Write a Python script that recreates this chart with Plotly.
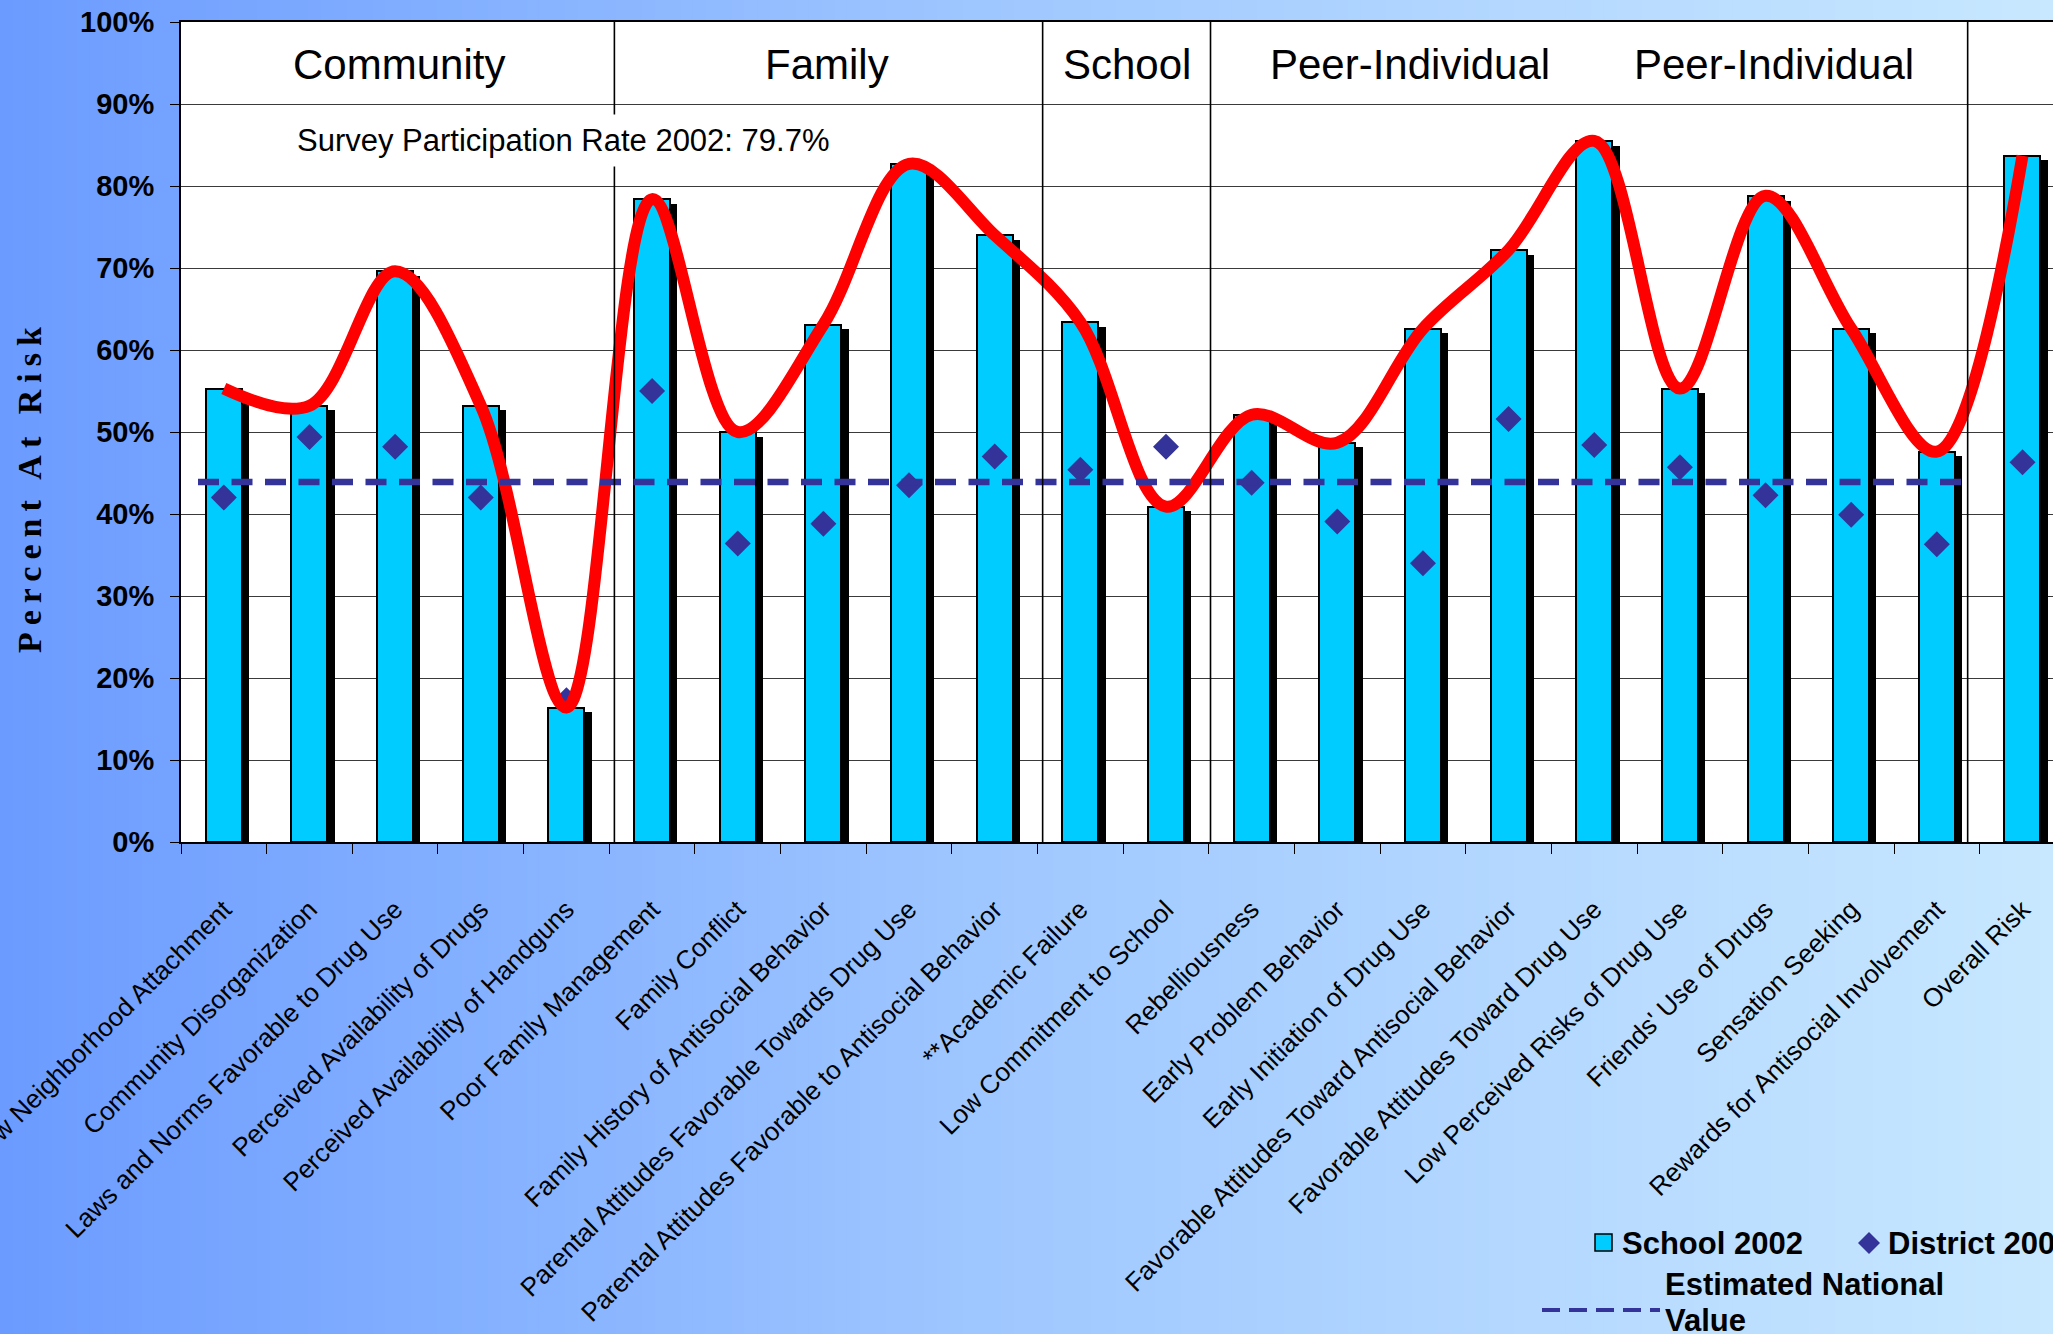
import plotly.graph_objects as go

# ---- data -------------------------------------------------------------
categories = [
    "Low Neighborhood Attachment",
    "Community Disorganization",
    "Laws and Norms Favorable to Drug Use",
    "Perceived Availability of Drugs",
    "Perceived Availability of Handguns",
    "Poor Family Management",
    "Family Conflict",
    "Family History of Antisocial Behavior",
    "Parental Attitudes Favorable Towards Drug Use",
    "Parental Attitudes Favorable to Antisocial Behavior",
    "**Academic Failure",
    "Low Commitment to School",
    "Rebelliousness",
    "Early Problem Behavior",
    "Early Initiation of Drug Use",
    "Favorable Attitudes Toward Antisocial Behavior",
    "Favorable Attitudes Toward Drug Use",
    "Low Perceived Risks of Drug Use",
    "Friends' Use of Drugs",
    "Sensation Seeking",
    "Rewards for Antisocial Involvement",
    "Overall Risk",
]
school_2002 = [55.3, 53.2, 69.6, 53.2, 16.4, 78.4, 50.0, 63.1, 82.7, 74.0, 63.4,
               40.9, 52.1, 48.7, 62.6, 72.2, 85.5, 55.3, 78.8, 62.6, 47.6, 83.7]
district_2002 = [42.0, 49.4, 48.2, 42.0, 17.3, 55.0, 36.4, 38.8, 43.5, 47.0, 45.4,
                 48.2, 43.8, 39.1, 34.0, 51.6, 48.4, 45.7, 42.3, 39.9, 36.3, 46.3]
national_value = [43.9, 43.9, 43.9, 43.9, 43.9, 43.9, 43.9, 43.9, 43.9, 43.9, 43.9,
                  43.9, 43.9, 43.9, 43.9, 43.9, 43.9, 43.9, 43.9, 43.9, 43.9]
y_ticks = [0, 10, 20, 30, 40, 50, 60, 70, 80, 90, 100]
y_tick_labels = ["0%", "10%", "20%", "30%", "40%", "50%", "60%", "70%", "80%", "90%", "100%"]

group_labels = ["Community", "Family", "School", "Peer-Individual", "Peer-Individual"]
group_centers = [2.05, 7.04, 10.55, 13.85, 18.1]
group_dividers = [4.56, 9.56, 11.52, 20.36]

survey_note = "Survey Participation Rate 2002: 79.7%"

# ---- page geometry (pixels) -------------------------------------------
W, H = 2053, 1334
L, T, B = 181, 22, 842
PW, PH = W - L, B - T
CAT_W = 85.65                     # pixel width of one category slot


def fx(p):
    return (p - L) / PW


def fy(p):
    return (B - p) / PH


x_range = [-0.5, -0.5 + PW / CAT_W]
shadow_shift = 4.7 / (PH / 100.0)  # drop shadow a few pixels lower
nat_range = [(L - 198) / 88.4, (W - 198) / 88.4]

SANS = "Liberation Sans, Arial, sans-serif"
SERIF = "Liberation Serif, Times New Roman, serif"
CYAN = "#00CCFF"
NAVY = "#333399"

fig = go.Figure()

# black drop shadow behind each bar
fig.add_trace(go.Bar(
    x=categories, y=school_2002, xaxis="x", yaxis="y",
    width=0.42, offset=-0.21 + 7.3 / CAT_W,
    marker=dict(color="black", line=dict(width=0)),
    showlegend=False, hoverinfo="skip",
))
# School 2002 bars
fig.add_trace(go.Bar(
    x=categories, y=school_2002, xaxis="x", yaxis="y2", name="School 2002",
    width=0.42, offset=-0.21,
    marker=dict(color=CYAN, line=dict(color="black", width=2)),
    showlegend=False,
))
# District 2002 diamonds
fig.add_trace(go.Scatter(
    x=categories, y=district_2002, xaxis="x", yaxis="y2", name="District 2002",
    mode="markers", marker=dict(symbol="diamond", size=20, color=NAVY),
    showlegend=False,
))
# smoothed School 2002 trend
fig.add_trace(go.Scatter(
    x=categories, y=school_2002, xaxis="x", yaxis="y2", mode="lines",
    line=dict(color="#FF0000", width=12, shape="spline", smoothing=1.0),
    showlegend=False, hoverinfo="skip",
))
# estimated national value
fig.add_trace(go.Scatter(
    x=list(range(len(national_value))), y=national_value, xaxis="x2", yaxis="y2",
    name="Estimated National Value", mode="lines",
    line=dict(color=NAVY, width=6.5, dash="21px,12.5px"),
    showlegend=False,
))

# ---- background gradient ---------------------------------------------
stops = [(0.0, (107, 155, 255)), (0.49, (160, 200, 255)), (1.0, (200, 232, 255))]


def grad(t):
    for (t0, c0), (t1, c1) in zip(stops[:-1], stops[1:]):
        if t <= t1:
            u = (t - t0) / (t1 - t0)
            return "rgb(%d,%d,%d)" % tuple(round(a + (b - a) * u) for a, b in zip(c0, c1))
    return "rgb(%d,%d,%d)" % stops[-1][1]


shapes = []
N = 160
for i in range(N):
    p0 = i * W / N
    p1 = (i + 1) * W / N + 1
    shapes.append(dict(type="rect", xref="paper", yref="paper", layer="below",
                       x0=fx(p0), x1=fx(p1), y0=fy(H), y1=fy(0),
                       fillcolor=grad((i + 0.5) / N), line=dict(width=0)))
shapes.append(dict(type="rect", xref="paper", yref="paper", layer="below",
                   x0=0, x1=1, y0=0, y1=1, fillcolor="white", line=dict(width=0)))

# group dividers
for xd in group_dividers:
    shapes.append(dict(type="line", xref="x", yref="paper", x0=xd, x1=xd, y0=0, y1=1,
                       line=dict(color="black", width=1.6)))

# ---- legend (drawn by hand) ------------------------------------------
shapes.append(dict(type="rect", xref="paper", yref="paper",
                   x0=fx(1595), x1=fx(1612), y0=fy(1251), y1=fy(1234),
                   fillcolor=CYAN, line=dict(color="black", width=1.5)))
cx, cy, r = 1869, 1243, 11
shapes.append(dict(type="path", xref="paper", yref="paper",
                   path="M %f %f L %f %f L %f %f L %f %f Z" % (
                       fx(cx - r), fy(cy), fx(cx), fy(cy - r),
                       fx(cx + r), fy(cy), fx(cx), fy(cy + r)),
                   fillcolor=NAVY, line=dict(width=0)))
shapes.append(dict(type="line", xref="paper", yref="paper",
                   x0=fx(1542), x1=fx(1660), y0=fy(1310), y1=fy(1310),
                   line=dict(color=NAVY, width=4, dash="18px,9px")))

annotations = []
for label, xc in zip(group_labels, group_centers):
    annotations.append(dict(x=xc, y=94.8, xref="x", yref="y2", text=label,
                            showarrow=False, xanchor="center", yanchor="middle",
                            font=dict(family=SANS, size=42, color="black")))
annotations.append(dict(x=3.96, y=85.6, xref="x", yref="y2", text=survey_note,
                        showarrow=False, xanchor="center", yanchor="middle",
                        bgcolor="white", borderpad=8,
                        font=dict(family=SANS, size=31, color="black")))
annotations.append(dict(x=fx(29), y=fy(487), xref="paper", yref="paper",
                        text='<span style="letter-spacing:7px">Percent At Risk</span>',
                        textangle=-90, showarrow=False, xanchor="center", yanchor="middle",
                        font=dict(family=SERIF, size=34, color="black", weight="bold")))
legend_font = dict(family=SANS, size=31, color="black", weight="bold")
for txt, xp, yp in [("School 2002", 1620, 1243), ("District 2002", 1886, 1243),
                    ("Estimated National", 1663, 1284), ("Value", 1663, 1320)]:
    annotations.append(dict(x=fx(xp), y=fy(yp), xref="paper", yref="paper", text=txt,
                            showarrow=False, xanchor="left", yanchor="middle",
                            font=legend_font))

fig.update_layout(
    width=W, height=H,
    margin=dict(l=L, r=0, t=T, b=H - B, pad=0, autoexpand=False),
    paper_bgcolor="rgb(107,155,255)",
    plot_bgcolor="white",
    showlegend=False,
    bargap=0,
    shapes=shapes,
    annotations=annotations,
    xaxis=dict(
        type="category", categoryorder="array", categoryarray=categories,
        range=x_range, tickson="boundaries", ticks="outside", ticklen=10,
        tickcolor="black", tickwidth=1.2,
        showline=True, linecolor="black", linewidth=2, mirror=True,
        showgrid=False, zeroline=False, tickangle=-45, automargin=False,
        ticklabelstandoff=40,
        tickfont=dict(family=SANS, size=26, color="black"),
    ),
    xaxis2=dict(overlaying="x", anchor="y2", range=nat_range, visible=False),
    yaxis=dict(range=[shadow_shift, 100 + shadow_shift], visible=False,
               showgrid=False, zeroline=False),
    yaxis2=dict(
        overlaying="y", side="left", anchor="x", range=[0, 100],
        tickvals=y_ticks, ticktext=y_tick_labels,
        ticks="outside", ticklen=9, tickcolor="black",
        showline=True, linecolor="black", linewidth=2,
        showgrid=True, gridcolor="#3a3a3a", gridwidth=1.3, zeroline=False,
        automargin=False, ticklabelstandoff=10,
        tickfont=dict(family=SANS, size=29, color="black", weight="bold"),
    ),
)

fig.write_html("out.html")
